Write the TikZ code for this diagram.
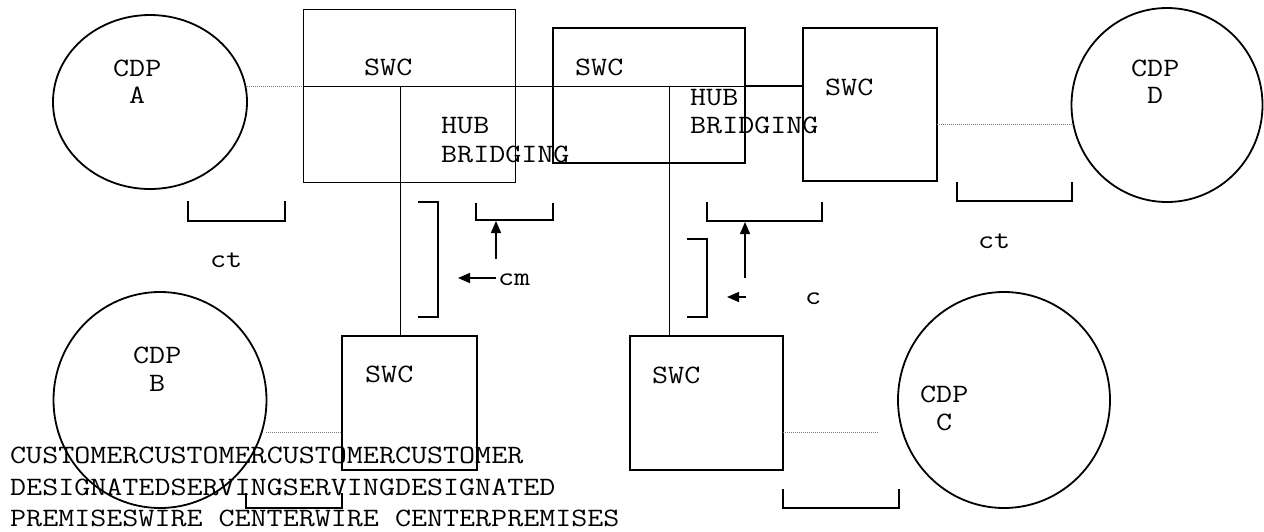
\documentclass[tikz,border=0pt]{standalone}
\usepackage{fontspec}
\newfontfamily\cour{Latin Modern Mono}[FakeStretch=1.175]
\usetikzlibrary{shapes.geometric,arrows.meta}
\begin{document}
\begin{tikzpicture}[x=1pt,y=-1pt,
  txt/.style={font=\cour\fontsize{26.5}{28}\selectfont, inner sep=0pt, anchor=base west},
  oval/.style={ellipse, draw, line width=1.8pt, inner sep=0pt},
  thinbox/.style={rectangle, draw, line width=1pt, inner sep=0pt},
  thickbox/.style={rectangle, draw, line width=1.8pt, inner sep=0pt},
  wire/.style={line width=1pt},
  dotline/.style={line width=1pt, gray, dash pattern=on 1pt off 1pt},
  brk/.style={line width=1.2pt},
  arr/.style={line width=1.5pt, -{Triangle[length=12pt,width=10pt]}}]
\useasboundingbox (0,0) rectangle (1264,531);
% circles
\node[oval, minimum width=194pt, minimum height=174pt] (cdpA) at (150,102) {};
\node[oval, minimum width=191pt, minimum height=194pt] (cdpD) at (1167,105) {};
\node[oval, minimum width=213pt, minimum height=216pt] (cdpB) at (160,400) {};
\node[oval, minimum width=212pt, minimum height=216pt] (cdpC) at (1004,400) {};
% boxes
\node[thinbox, minimum width=212pt, minimum height=173pt] (box1) at (409,95.5) {};
\node[thickbox, minimum width=192pt, minimum height=135pt] (box2) at (649,95.5) {};
\node[thickbox, minimum width=134pt, minimum height=153pt] (box3) at (870,104.5) {};
\node[thickbox, minimum width=135pt, minimum height=134pt] (boxB) at (409.5,403) {};
\node[thickbox, minimum width=153pt, minimum height=134pt] (boxC) at (706.5,403) {};
% coordinates
\coordinate (hA) at (247,86);
\coordinate (hL) at (303,86);
\coordinate (hM) at (745,86);
\coordinate (hR) at (803,86);
\coordinate (v1t) at (400,86);
\coordinate (v2t) at (669,86);
\coordinate (dD1) at (937,124);
\coordinate (dD2) at (1072,124);
\coordinate (dB1) at (266,432);
\coordinate (dC1) at (783,432);
\coordinate (dC2) at (878,432);
% wires
\draw[wire] (hL) -- (hM);
\draw[line width=1.8pt] (hM) -- (hR);
\draw[wire] (v1t) -- (v1t |- boxB.north);
\draw[wire] (v2t) -- (v2t |- boxC.north);
\draw[dotline] (hA) -- (hL);
\draw[dotline] (dD1) -- (dD2);
\draw[dotline] (dB1) -- (dB1 -| boxB.west);
\draw[dotline] (dC1) -- (dC2);
% brackets
\draw[brk] (188,201) -- (188,221) -- (285,221) -- (285,201);
\draw[brk] (476,203) -- (476,220) -- (553,220) -- (553,203);
\draw[brk] (707,202) -- (707,221) -- (822,221) -- (822,202);
\draw[brk] (957,182) -- (957,201) -- (1072,201) -- (1072,182);
\draw[brk] (246,493) -- (246,508) -- (342,508) -- (342,493);
\draw[brk] (783,489) -- (783,508) -- (899,508) -- (899,489);
\draw[brk] (418,202) -- (438,202) -- (438,317) -- (418,317);
\draw[brk] (687,239) -- (707,239) -- (707,317) -- (687,317);
% arrows
\coordinate (a1s) at (496,259); \coordinate (a1e) at (496,221);
\coordinate (a2s) at (496,278); \coordinate (a2e) at (458,278);
\coordinate (a3s) at (745,278); \coordinate (a3e) at (745,222);
\coordinate (a4s) at (746,297); \coordinate (a4e) at (727,297);
\draw[arr] (a1s) -- (a1e);
\draw[arr] (a2s) -- (a2e);
\draw[arr] (a3s) -- (a3e);
\draw[arr] (a4s) -- (a4e);
% labels
\node[txt] (tA1) at (113,76) {CDP};
\node[txt] (tA2) at (129,103) {A};
\node[txt] (tS1) at (364,75) {SWC};
\node[txt] (tH1) at (441,133) {HUB};
\node[txt] (tB1) at (441,162) {BRIDGING};
\node[txt] (tS2) at (575,75) {SWC};
\node[txt] (tH2) at (690,105) {HUB};
\node[txt] (tB2) at (690,133) {BRIDGING};
\node[txt] (tS3) at (825,95) {SWC};
\node[txt] (tD1) at (1131,76) {CDP};
\node[txt] (tD2) at (1147,103) {D};
\node[txt] (ct1) at (210,267) {ct};
\node[txt] (cm) at (498,285) {cm};
\node[txt] (ct2) at (978,248) {ct};
\node[txt] (c) at (805,304) {c};
\node[txt] (tBB1) at (133,363) {CDP};
\node[txt] (tBB2) at (149,391) {B};
\node[txt] (tSB) at (365,382) {SWC};
\node[txt] (tSC) at (652,383) {SWC};
\node[txt] (tC1) at (920,402) {CDP};
\node[txt] (tC2) at (936,430) {C};
\node[txt] (L1) at (10,463) {CUSTOMERCUSTOMERCUSTOMERCUSTOMER};
\node[txt] (L2) at (10,495) {DESIGNATEDSERVINGSERVINGDESIGNATED};
\node[txt] (L3) at (10,526) {PREMISESWIRE CENTERWIRE CENTERPREMISES};
\end{tikzpicture}
\end{document}
